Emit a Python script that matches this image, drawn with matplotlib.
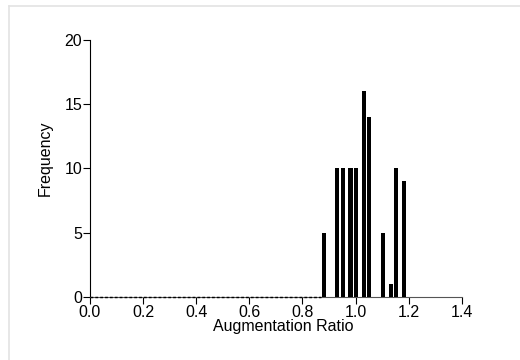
import numpy as np
import matplotlib.pyplot as plt
from matplotlib.lines import Line2D

plt.rcParams['font.family'] = ['Liberation Sans', 'DejaVu Sans']

# bar centres (augmentation ratio) and counts
ratio = [0.881, 0.930, 0.952, 0.981, 1.001, 1.031, 1.052, 1.102, 1.132, 1.152, 1.181]
freq = [5, 10, 10, 10, 10, 16, 14, 5, 1, 10, 9]
xticks = [0.0, 0.2, 0.4, 0.6, 0.8, 1.0, 1.2, 1.4]
yticks = [0, 5, 10, 15, 20]

fig = plt.figure(figsize=(5.2, 3.6), dpi=100)
ax = fig.add_axes([0.173, 0.175, 0.715, 0.714])

ax.bar(ratio, freq, width=0.0155, color='black', zorder=3)

# zero-height bins along the baseline
ax.plot([0, 0.87], [0, 0], color='black', lw=1.0, ls=(0, (2, 1.5)), zorder=4, clip_on=False)

ax.set_xlim(0, 1.4)
ax.set_ylim(0, 20)
ax.set_xticks(xticks)
ax.set_xticklabels([f'{t:.1f}' for t in xticks])
ax.set_yticks(yticks)

for s in ['top', 'right']:
    ax.spines[s].set_visible(False)
ax.spines['left'].set_linewidth(0.8)
ax.spines['bottom'].set_linewidth(0.8)
ax.spines['bottom'].set_color('#555555')
ax.tick_params(axis='both', labelsize=11.5, length=5, width=0.8, pad=0.5)

ax.set_xlabel('Augmentation Ratio', fontsize=11.5)
ax.xaxis.set_label_coords(0.52, -0.085)
ax.set_ylabel('Frequency', fontsize=11.5)
ax.yaxis.set_label_coords(-0.10, 0.54)

# light frame round the picture
fig.add_artist(Line2D([9/520, 9/520], [0, 1 - 6/360], color='#e3e3e3', lw=1.2))
fig.add_artist(Line2D([9/520, 1], [1 - 6/360, 1 - 6/360], color='#e3e3e3', lw=1.2))

fig.savefig('out.png', dpi=100)
